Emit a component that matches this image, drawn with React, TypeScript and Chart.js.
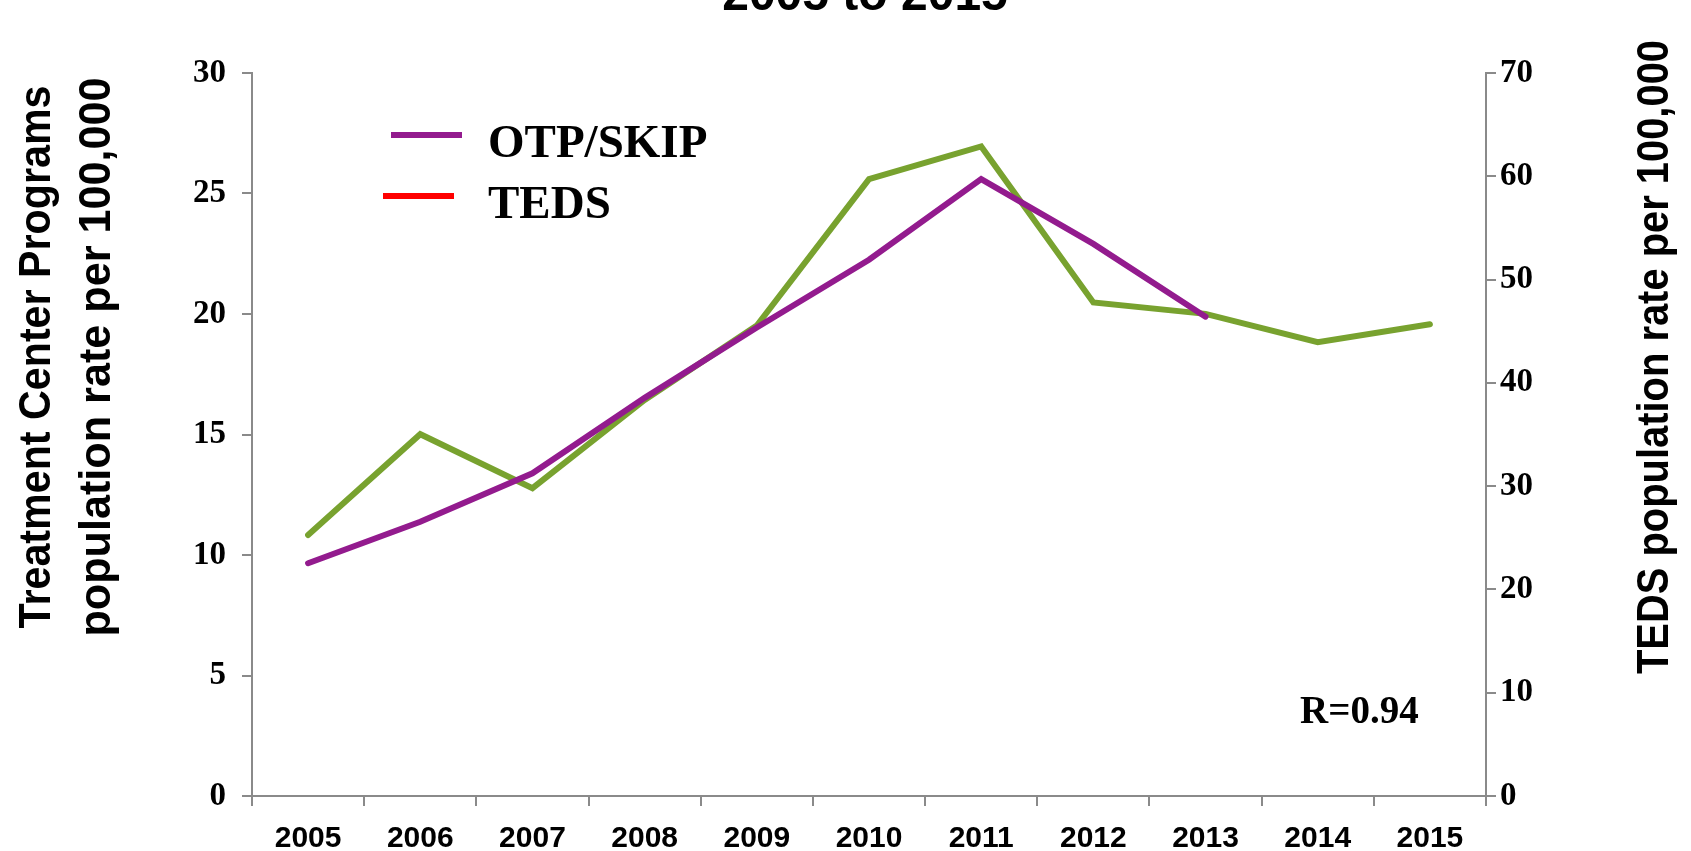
import React, { useEffect, useRef } from "react";
import { Chart, registerables } from "chart.js";

Chart.register(...registerables);

const years = ["2005", "2006", "2007", "2008", "2009", "2010", "2011", "2012", "2013", "2014", "2015"];
const otpSkip = [9.66, 11.38, 13.39, 16.52, 19.44, 22.25, 25.6, 22.91, 19.89, null, null];
const teds = [25.27, 35.03, 29.8, 38.35, 45.55, 59.73, 62.89, 47.78, 46.68, 43.94, 45.68];
const seriesNames = ["OTP/SKIP", "TEDS"];
const lineColors = ["#931B8E", "#78A22F"];
const legendColors = ["#931B8E", "#FF0000"];
const titleText = "2005 to 2015";
const leftTitle = ["Treatment Center Programs", "population rate per 100,000"];
const rightTitle = "TEDS population rate per 100,000";
const rText = "R=0.94";

const W = 1691;
const H = 851;
const AREA = { left: 252, right: 1486, top: 73, bottom: 796 };
const AXIS_GRAY = "#8A8A8A";
const SANS = '"Liberation Sans", Arial, sans-serif';
const SERIF = '"Liberation Serif", "Times New Roman", serif';

function drawRotated(ctx: CanvasRenderingContext2D, text: string, baselineX: number, centerY: number, length: number) {
  ctx.save();
  ctx.font = "bold 44px " + SANS;
  const w = ctx.measureText(text).width;
  ctx.translate(baselineX, centerY);
  ctx.rotate(-Math.PI / 2);
  ctx.scale(length / w, 1);
  ctx.textAlign = "center";
  ctx.textBaseline = "alphabetic";
  ctx.fillText(text, 0, 0);
  ctx.restore();
}

const decorPlugin = {
  id: "decor",
  afterDraw(chart: any) {
    const ctx: CanvasRenderingContext2D = chart.ctx;
    ctx.save();
    ctx.fillStyle = "#000";
    // title (cut off at top)
    ctx.font = "bold 48px " + SANS;
    ctx.textAlign = "center";
    ctx.textBaseline = "alphabetic";
    ctx.fillText(titleText, 865, 10);
    // axis titles
    drawRotated(ctx, leftTitle[0], 50, 357, 543);
    drawRotated(ctx, leftTitle[1], 110, 357, 559);
    drawRotated(ctx, rightTitle, 1668, 357, 634);
    // legend
    const rows = [
      { x1: 391, x2: 462, ly: 135, ty: 157 },
      { x1: 383, x2: 454, ly: 196, ty: 218 },
    ];
    rows.forEach((r, i) => {
      ctx.strokeStyle = legendColors[i];
      ctx.lineWidth = 6;
      ctx.beginPath();
      ctx.moveTo(r.x1, r.ly);
      ctx.lineTo(r.x2, r.ly);
      ctx.stroke();
      ctx.fillStyle = "#000";
      ctx.font = "bold 47px " + SERIF;
      ctx.textAlign = "left";
      ctx.fillText(seriesNames[i], 488, r.ty);
    });
    // R value
    ctx.font = "bold 39px " + SERIF;
    ctx.textAlign = "left";
    ctx.fillText(rText, 1300, 723);
    ctx.restore();
  },
};

export default function App() {
  const ref = useRef<HTMLCanvasElement | null>(null);
  useEffect(() => {
    if (!ref.current) return;
    const chart = new Chart(ref.current, {
      type: "line",
      data: {
        labels: years,
        datasets: [
          {
            label: seriesNames[0],
            data: otpSkip,
            borderColor: lineColors[0],
            backgroundColor: lineColors[0],
            borderWidth: 6,
            pointRadius: 0,
            tension: 0,
            borderCapStyle: "round",
            yAxisID: "y",
            spanGaps: false,
          },
          {
            label: seriesNames[1],
            data: teds,
            borderColor: lineColors[1],
            backgroundColor: lineColors[1],
            borderWidth: 6,
            pointRadius: 0,
            tension: 0,
            borderCapStyle: "round",
            yAxisID: "y1",
          },
        ],
      },
      options: {
        responsive: false,
        animation: false,
        layout: { padding: { top: AREA.top, left: 0, right: 0, bottom: 0 } },
        plugins: {
          legend: { display: false },
          title: { display: false },
          tooltip: { enabled: false },
        },
        scales: {
          x: {
            type: "category",
            offset: true,
            grid: { offset: true, drawOnChartArea: false, drawTicks: true, tickLength: 10, color: AXIS_GRAY, lineWidth: 2 },
            border: { display: true, color: AXIS_GRAY, width: 2 },
            ticks: { color: "#000", font: { family: SANS, weight: "bold", size: 30 }, padding: 15, maxRotation: 0, autoSkip: false },
            afterFit: (s: any) => { s.height = H - AREA.bottom; },
          },
          y: {
            position: "left",
            min: 0,
            max: 30,
            ticks: { stepSize: 5, color: "#000", font: { family: SERIF, weight: "bold", size: 33 }, padding: 16 },
            grid: { drawOnChartArea: false, drawTicks: true, tickLength: 10, color: AXIS_GRAY, lineWidth: 2 },
            border: { display: true, color: AXIS_GRAY, width: 2 },
            afterFit: (s: any) => { s.width = AREA.left; },
          },
          y1: {
            position: "right",
            min: 0,
            max: 70,
            ticks: { stepSize: 10, color: "#000", font: { family: SERIF, weight: "bold", size: 33 }, padding: 4 },
            grid: { drawOnChartArea: false, drawTicks: true, tickLength: 10, color: AXIS_GRAY, lineWidth: 2 },
            border: { display: true, color: AXIS_GRAY, width: 2 },
            afterFit: (s: any) => { s.width = W - AREA.right; },
          },
        },
      },
      plugins: [decorPlugin],
    } as any);
    return () => chart.destroy();
  }, []);
  return (
    <div style={{ position: "absolute", left: 0, top: 0, width: W, height: H, background: "#fff" }}>
      <canvas ref={ref} width={W} height={H} style={{ display: "block" }} />
    </div>
  );
}
